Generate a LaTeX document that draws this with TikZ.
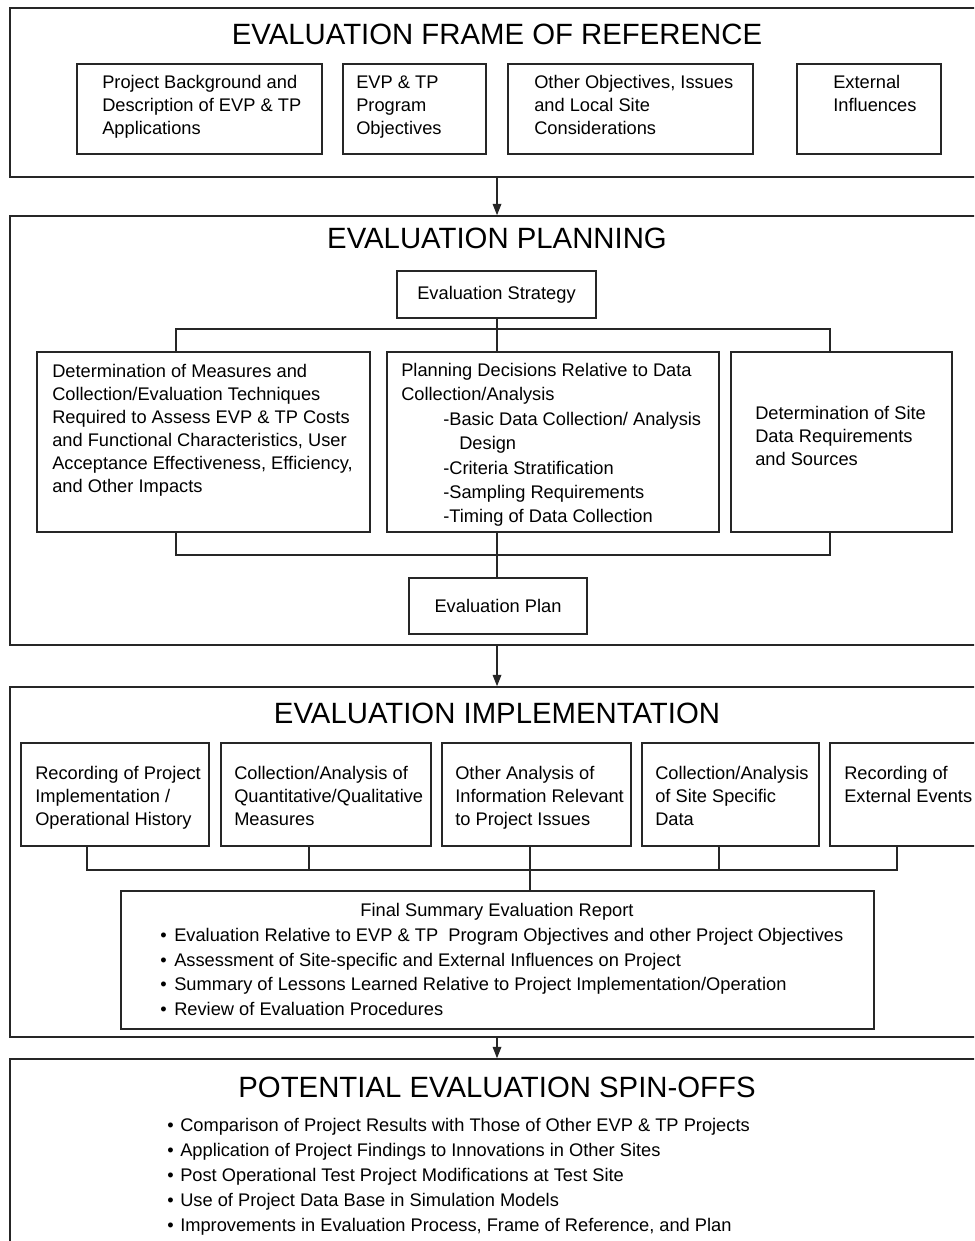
\documentclass[tikz,border=0pt]{standalone}
\usepackage{fontspec}
\setmainfont{Liberation Sans}
\usetikzlibrary{arrows.meta,fit}
\newcommand{\hb}[1]{\hbox{#1}}
\newcommand{\bl}[1]{\hbox{\makebox[10.5pt][l]{•}#1}}
\newcommand{\bs}[1]{\hbox{\makebox[9.75pt][l]{•}#1}}
\begin{document}
\begin{tikzpicture}[x=0.75pt,y=-0.75pt,
  frm/.style={draw=black!85, line width=1.2pt, inner sep=0pt},
  box/.style={draw=black!85, line width=0.9pt, inner sep=0pt},
  ttl/.style={font=\fontsize{22}{26}\selectfont, inner sep=0pt},
  txt/.style={font=\fontsize{13.7}{17.25}\selectfont, inner sep=0pt, anchor=base west},
  ctxt/.style={font=\fontsize{13.7}{17.25}\selectfont, inner sep=0pt},
  wire/.style={draw=black!85, line width=0.9pt},
  arr/.style={wire, -{Triangle[length=8.5pt,width=6.5pt]}}]
\useasboundingbox (0,0) rectangle (974,1241);
\clip (0,0) rectangle (974,1241);
\coordinate (ax) at (497,0);

% ---------------- Frame 1
\node[frm, fit={(10,8) (990,177)}] (f1) {};
\node[ttl] (t1) at (497,34) {EVALUATION FRAME OF REFERENCE};
\node[box, fit={(77,64) (322,154)}] (a1) {};
\node[box, fit={(343,64) (486,154)}] (a2) {};
\node[box, fit={(508,64) (753,154)}] (a3) {};
\node[box, fit={(797,64) (941,154)}] (a4) {};
\node[txt] (a1t) at (102,88.5) {\vtop{\hb{Project Background and}\hb{Description of EVP \& TP}\hb{Applications}}};
\node[txt] (a2t) at (356,88.5) {\vtop{\hb{EVP \& TP}\hb{Program}\hb{Objectives}}};
\node[txt] (a3t) at (534,88.5) {\vtop{\hb{Other Objectives, Issues}\hb{and Local Site}\hb{Considerations}}};
\node[txt] (a4t) at (833,88.5) {\vtop{\hb{External}\hb{Influences}}};

% ---------------- Frame 2
\node[frm, fit={(10,216) (990,645)}] (f2) {};
\node[ttl] (t2) at (497,238) {EVALUATION PLANNING};
\node[box, fit={(397,271) (596,318)}] (strat) {};
\node[ctxt] (stratt) at (strat.center) {Evaluation Strategy};
\node[box, fit={(37,352) (370,532)}] (p1) {};
\node[box, fit={(387,352) (719,532)}] (p2) {};
\node[box, fit={(731,352) (952,532)}] (p3) {};
\node[box, fit={(409,578) (587,634)}] (plan) {};
\node[ctxt] (plant) at (plan.center) {Evaluation Plan};
\node[txt] (p1t) at (52,377.5) {\vtop{\hb{Determination of Measures and}\hb{Collection/Evaluation Techniques}\hb{Required to Assess EVP \& TP Costs}\hb{and Functional Characteristics, User}\hb{Acceptance Effectiveness, Efficiency,}\hb{and Other Impacts}}};
\node[txt, font=\fontsize{13.7}{18.3}\selectfont] (p2t) at (401,376.5) {\vtop{\hb{Planning Decisions Relative to Data}\hb{Collection/Analysis}\hb{\hspace*{31.5pt}-Basic Data Collection/ Analysis}\hb{\hspace*{43.5pt}Design}\hb{\hspace*{31.5pt}-Criteria Stratification}\hb{\hspace*{31.5pt}-Sampling Requirements}\hb{\hspace*{31.5pt}-Timing of Data Collection}}};
\node[txt] (p3t) at (755,419.5) {\vtop{\hb{Determination of Site}\hb{Data Requirements}\hb{and Sources}}};
\coordinate (ptL) at (176,329);
\coordinate (ptR) at (830,329);
\coordinate (pbL) at (176,555);
\coordinate (pbR) at (830,555);
\draw[wire] (ptL |- p1.north) -- (ptL) -- (ptR) -- (ptR |- p3.north);
\draw[wire] (strat.south -| ax) -- (ax |- p2.north);
\draw[wire] (pbL |- p1.south) -- (pbL) -- (pbR) -- (pbR |- p3.south);
\draw[wire] (ax |- p2.south) -- (ax |- plan.north);

% ---------------- Frame 3
\node[frm, fit={(10,687) (990,1037)}] (f3) {};
\node[ttl] (t3) at (497,713) {EVALUATION IMPLEMENTATION};
\node[box, fit={(21,743) (209,846)}] (i1) {};
\node[box, fit={(221,743) (431,846)}] (i2) {};
\node[box, fit={(442,743) (631,846)}] (i3) {};
\node[box, fit={(642,743) (819,846)}] (i4) {};
\node[box, fit={(830,743) (1000,846)}] (i5) {};
\node[txt] (i1t) at (35,779.5) {\vtop{\hb{Recording of Project}\hb{Implementation /}\hb{Operational History}}};
\node[txt] (i2t) at (234,779.5) {\vtop{\hb{Collection/Analysis of}\hb{Quantitative/Qualitative}\hb{Measures}}};
\node[txt] (i3t) at (455,779.5) {\vtop{\hb{Other Analysis of}\hb{Information Relevant}\hb{to Project Issues}}};
\node[txt] (i4t) at (655,779.5) {\vtop{\hb{Collection/Analysis}\hb{of Site Specific}\hb{Data}}};
\node[txt] (i5t) at (844,779.5) {\vtop{\hb{Recording of}\hb{External Events}}};
\node[box, fit={(121,891) (874,1029)}] (fin) {};
\node[ctxt, anchor=base] (fint) at (497,916.5) {Final Summary Evaluation Report};
\node[txt, font=\fontsize{13.7}{18.5}\selectfont] (finb) at (160,941.5) {\vtop{\bl{Evaluation Relative to EVP \& TP~ Program Objectives and other Project Objectives}\bl{Assessment of Site-specific and External Influences on Project}\bl{Summary of Lessons Learned Relative to Project Implementation/Operation}\bl{Review of Evaluation Procedures}}};
\coordinate (jL) at (87,870);
\coordinate (j2) at (309,870);
\coordinate (j3) at (530,870);
\coordinate (j4) at (719,870);
\coordinate (jR) at (897,870);
\draw[wire] (jL |- i1.south) -- (jL) -- (jR) -- (jR |- i5.south);
\draw[wire] (j2 |- i2.south) -- (j2);
\draw[wire] (j4 |- i4.south) -- (j4);
\draw[wire] (j3 |- i3.south) -- (j3 |- fin.north);

% ---------------- Frame 4
\node[frm, fit={(10,1059) (990,1300)}] (f4) {};
\node[ttl] (t4) at (497,1087) {POTENTIAL EVALUATION SPIN-OFFS};
\node[txt, font=\fontsize{13.7}{18.75}\selectfont] (spin) at (167,1131.5) {\vtop{\bs{Comparison of Project Results with Those of Other EVP \& TP Projects}\bs{Application of Project Findings to Innovations in Other Sites}\bs{Post Operational Test Project Modifications at Test Site}\bs{Use of Project Data Base in Simulation Models}\bs{Improvements in Evaluation Process, Frame of Reference, and Plan}}};

% ---------------- Arrows
\draw[arr] (ax |- f1.south) -- (ax |- f2.north);
\draw[arr] (ax |- f2.south) -- (ax |- f3.north);
\draw[arr] (ax |- f3.south) -- (ax |- f4.north);
\end{tikzpicture}
\end{document}
